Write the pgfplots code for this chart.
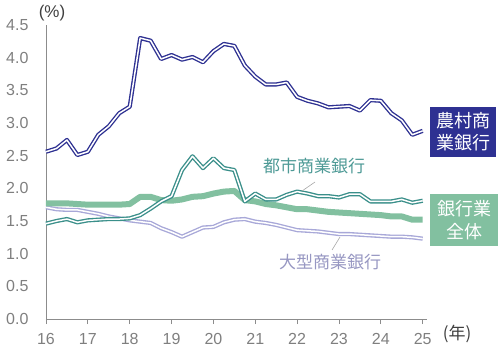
\documentclass[border=0pt]{standalone}
\usepackage{fontspec}
\setmainfont{Liberation Sans}
\newfontfamily\cjk{Noto Sans CJK JP}
\usepackage{pgfplots}
\usepackage{pgfplotstable}
\pgfplotsset{compat=1.18}
\definecolor{rural}{HTML}{2E3192}
\definecolor{city}{HTML}{3A8F8A}
\definecolor{allb}{HTML}{82C0A0}
\definecolor{large}{HTML}{A8A8D8}
\definecolor{axisgray}{HTML}{8C8C8C}
\definecolor{ticklab}{HTML}{7F7F7F}
\pgfplotstableread{
x rural city all large
16.00 2.56 1.46 1.77 1.71
16.25 2.61 1.50 1.77 1.68
16.50 2.74 1.53 1.77 1.67
16.75 2.51 1.48 1.76 1.67
17.00 2.56 1.51 1.75 1.64
17.25 2.82 1.52 1.75 1.61
17.50 2.95 1.53 1.75 1.57
17.75 3.15 1.53 1.75 1.54
18.00 3.25 1.54 1.76 1.51
18.25 4.30 1.59 1.87 1.49
18.50 4.26 1.69 1.87 1.47
18.75 3.98 1.80 1.82 1.39
19.00 4.04 1.88 1.81 1.33
19.25 3.97 2.28 1.83 1.26
19.50 4.01 2.49 1.87 1.33
19.75 3.93 2.31 1.88 1.40
20.00 4.10 2.46 1.92 1.41
20.25 4.21 2.31 1.95 1.48
20.50 4.18 2.28 1.96 1.52
20.75 3.88 1.80 1.82 1.53
21.00 3.71 1.92 1.80 1.49
21.25 3.59 1.83 1.76 1.47
21.50 3.59 1.83 1.74 1.44
21.75 3.62 1.90 1.71 1.40
22.00 3.40 1.95 1.68 1.36
22.25 3.34 1.92 1.68 1.35
22.50 3.30 1.88 1.66 1.34
22.75 3.24 1.88 1.64 1.32
23.00 3.25 1.86 1.63 1.30
23.25 3.26 1.91 1.62 1.30
23.50 3.19 1.91 1.61 1.29
23.75 3.35 1.80 1.60 1.28
24.00 3.34 1.80 1.59 1.27
24.25 3.15 1.80 1.57 1.26
24.50 3.04 1.83 1.57 1.26
24.75 2.82 1.78 1.52 1.25
25.00 2.88 1.81 1.52 1.23
}\datatable
\begin{document}
\begin{tikzpicture}[x=1pt,y=1pt]
\path[use as bounding box] (-46,-37) rectangle (456,319);
\begin{axis}[at={(0,0)}, anchor=south west, scale only axis,
 width=380.9pt, height=294pt,
 xmin=16, xmax=25.1, ymin=0, ymax=4.5,
 axis x line*=bottom, axis y line*=left,
 axis line style={axisgray, line width=0.8pt, -},
 xtick={16,17,...,25}, ytick={0,0.5,1,1.5,2,2.5,3,3.5,4,4.5},
 tick align=outside, major tick length=5pt,
 xtick style={axisgray, line width=0.8pt}, ytick style={draw=none},
 ticklabel style={font=\fontsize{16}{16}\selectfont, text=ticklab},
 /pgf/number format/assume math mode=true,
 yticklabel style={xshift=-9pt, /pgf/number format/fixed, /pgf/number format/fixed zerofill, /pgf/number format/precision=1},
 xticklabel style={yshift=-6pt},
 clip=false,
 dbl/.style={line width=1.35pt, double=white, double distance=1.5pt, line join=round},
]
\addplot[dbl, draw=large] table[x=x, y=large] {\datatable};
\addplot[allb, line width=6pt, line join=round] table[x=x, y=all] {\datatable};
\addplot[dbl, draw=city] table[x=x, y=city] {\datatable};
\addplot[dbl, draw=rural] table[x=x, y=rural] {\datatable};
\end{axis}
\node[font=\fontsize{17}{17}\selectfont, text=black!75] at (6,306) {(\%)};
\node[font=\cjk\fontsize{17}{17}\selectfont, text=black!75] at (411,-15) {(年)};
\node[font=\cjk\fontsize{18}{22}\selectfont, text=white, fill=rural, align=center,
  minimum width=66pt, minimum height=50pt, inner sep=0pt] at (417,187) {農村商\\業銀行};
\node[font=\cjk\fontsize{18}{23}\selectfont, text=white, fill=allb, align=center,
  minimum width=68pt, minimum height=52pt, inner sep=0pt] at (418,99) {銀行業\\全体};
\node[font=\cjk\fontsize{17}{17}\selectfont, text=city!90, inner sep=0pt] at (268,153) {都市商業銀行};
\draw[black!35, line width=0.6pt] (269,137) -- (256,128);
\node[font=\cjk\fontsize{17}{17}\selectfont, text=large!90!black, inner sep=0pt] at (284,57) {大型商業銀行};
\draw[black!35, line width=0.6pt] (294,82) -- (286,69);
\end{tikzpicture}
\end{document}
